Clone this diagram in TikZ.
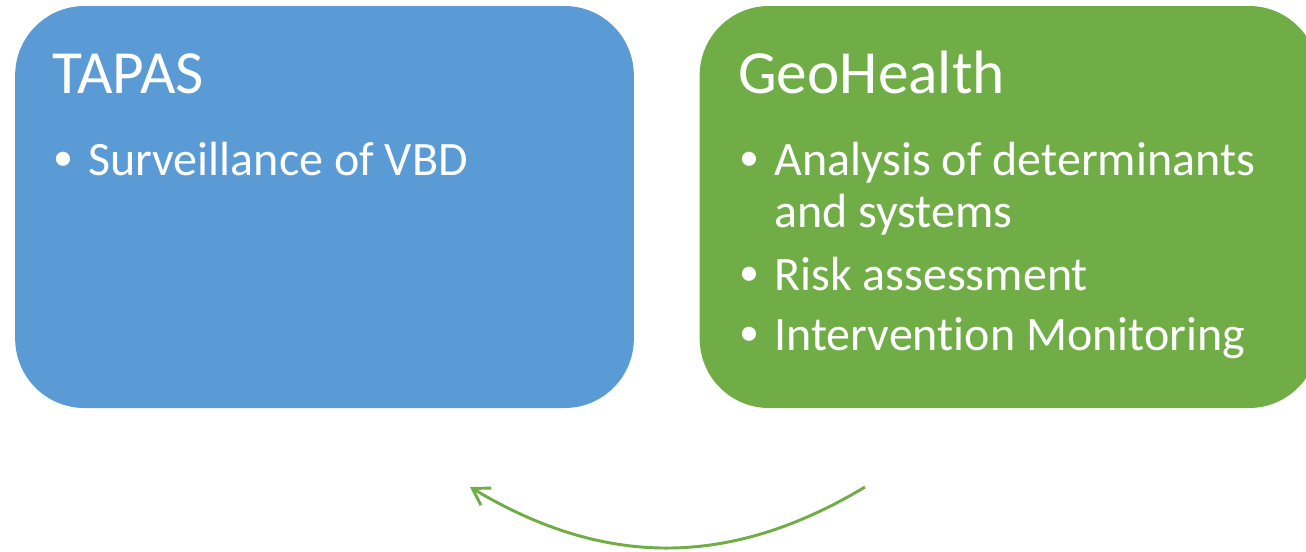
\documentclass[tikz,border=0pt]{standalone}
\usepackage{fontspec}
\setmainfont[Ligatures=NoCommon]{Carlito}
\usepackage{xcolor}
\usetikzlibrary{arrows.meta}

\definecolor{tapasblue}{HTML}{5B9BD5}
\definecolor{geogreen}{HTML}{70AD47}

\tikzset{
  panel/.style={shape=rectangle,rounded corners=52pt,inner sep=0pt,
                minimum width=464pt,minimum height=301.5pt},
  title/.style={anchor=base west,text=white,inner sep=0pt,font=\fontsize{46}{55}\selectfont},
  item/.style={anchor=base west,text=white,inner sep=0pt,font=\fontsize{36}{43}\selectfont},
  dot/.style={anchor=center,text=white,inner sep=0pt,font=\fontsize{30}{36}\selectfont},
}

\begin{document}
\begin{tikzpicture}[x=0.75pt,y=-0.75pt]
\useasboundingbox (0,0) rectangle (1306,551);
\begin{scope}[>={Straight Barb[length=12pt,width=15pt]}]

    % the two boxes
    \node[panel,fill=tapasblue] (tapas) at (324.5,207) {};
    \node[panel,fill=geogreen]  (geo)   at (1009,207)  {};

    \node[title] (tapasT) at (52,93)  {TAPAS};
    \node[title] (geoT)   at (738,93) {GeoHealth};

    % bullet items
    \node[dot]  (b1) at (63.5,161) {•};
    \node[item] (t1) at (88,175)  {Surveillance of VBD};

    \node[dot]  (b2) at (749.5,161) {•};
    \node[item] (t2) at (774,175) {Analysis of determinants};
    \node[item] (t2b) at (774,227) {and systems};
    \node[dot]  (b3) at (749.5,276) {•};
    \node[item] (t3) at (774,290) {Risk assessment};
    \node[dot]  (b4) at (749.5,336) {•};
    \node[item] (t4) at (774,350) {Intervention Monitoring};

    % feedback arrow underneath
    \coordinate (from) at (865,487);
    \coordinate (to)   at (470,487);
    \draw[->,geogreen,line width=2.2pt] (from) .. controls (730,568) and (605,568) .. (to);

\end{scope}
\end{tikzpicture}
\end{document}
